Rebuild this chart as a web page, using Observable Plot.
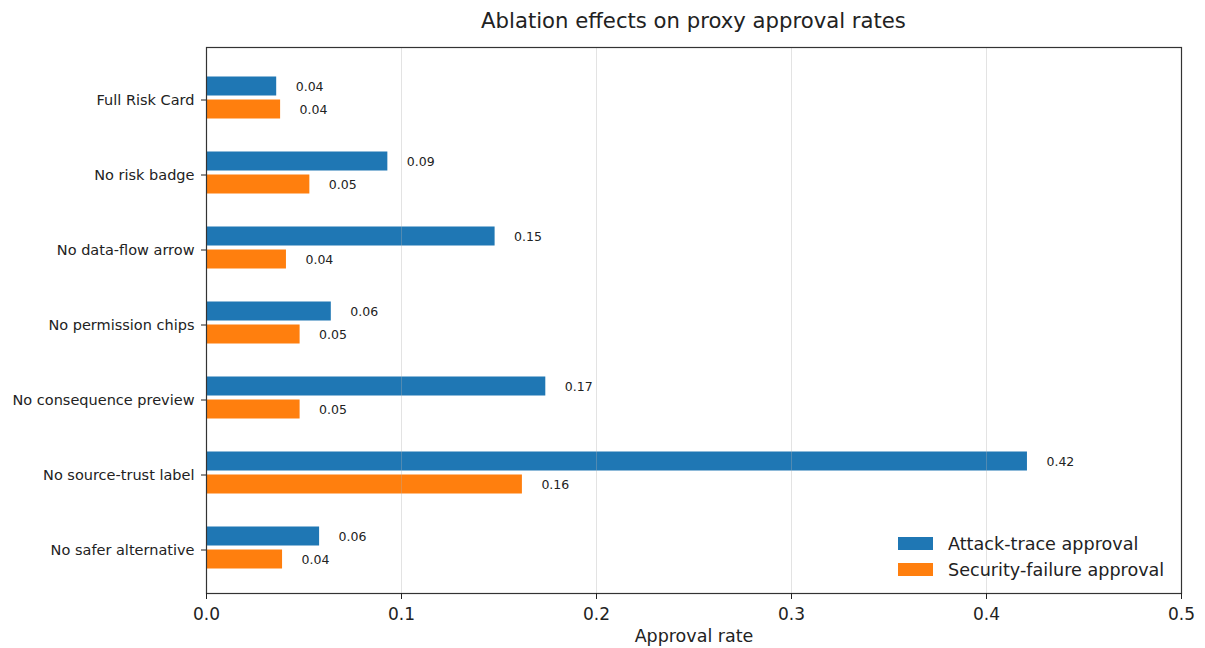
<!DOCTYPE html>
<html>
<head>
<meta charset="utf-8">
<script src="https://cdn.jsdelivr.net/npm/d3@7"></script>
<script src="https://cdn.jsdelivr.net/npm/@observablehq/plot@0.6"></script>
<style>
  html, body { margin: 0; padding: 0; background: #fff; }
  #wrap { position: relative; width: 1205px; height: 648px; font-family: "DejaVu Sans", sans-serif; color: #222; }
  #title { position: absolute; left: 206px; width: 975px; top: 7px; text-align: center; font-size: 21.2px; line-height: 28px; }
  .leg { position: absolute; left: 898px; width: 35px; height: 12.5px; }
  .legt { position: absolute; left: 948px; font-size: 17.6px; line-height: 20px; white-space: nowrap; }
</style>
</head>
<body>
<div id="wrap">
  <div id="chart"></div>
  <div id="title">Ablation effects on proxy approval rates</div>
  <div class="leg" style="top:537px;background:#1f77b4"></div>
  <div class="legt" style="top:534px">Attack-trace approval</div>
  <div class="leg" style="top:563px;background:#ff7f0e"></div>
  <div class="legt" style="top:560px">Security-failure approval</div>
</div>
<script>
const categories = ["Full Risk Card", "No risk badge", "No data-flow arrow", "No permission chips", "No consequence preview", "No source-trust label", "No safer alternative"];
const attackTrace = [0.036, 0.093, 0.148, 0.064, 0.174, 0.421, 0.058];
const securityFailure = [0.038, 0.053, 0.041, 0.048, 0.048, 0.162, 0.039];
const xTicks = [0, 0.1, 0.2, 0.3, 0.4, 0.5];
const gridTicks = [0.1, 0.2, 0.3, 0.4];
const xLabel = ["Approval rate"];

const attackRows = categories.map((c, i) => ({category: c, value: attackTrace[i]}));
const securityRows = categories.map((c, i) => ({category: c, value: securityFailure[i]}));
const fmt = d3.format(".2f");
const BLUE = "#1f77b4", ORANGE = "#ff7f0e";

const chart = Plot.plot({
  width: 1205,
  height: 648,
  marginLeft: 206,
  marginRight: 24,
  marginTop: 47,
  marginBottom: 55,
  style: {fontFamily: "DejaVu Sans, sans-serif", color: "#222", background: "transparent"},
  x: {domain: [0, 0.5]},
  y: {type: "band", domain: categories, range: [60, 588], paddingInner: 0.748, paddingOuter: 0.374},
  marks: [
    Plot.barX(attackRows, {x: "value", y: "category", fill: BLUE, dy: -13.5}),
    Plot.barX(securityRows, {x: "value", y: "category", fill: ORANGE, dy: 9.5}),
    Plot.ruleX(gridTicks, {x: d => d, stroke: "#b0b0b0", strokeOpacity: 0.35, strokeWidth: 1}),
    Plot.frame({stroke: "#333", strokeWidth: 1.2}),
    Plot.text(attackRows, {x: "value", y: "category", text: d => fmt(d.value), dx: 19, dy: -13.5, textAnchor: "start", fontSize: 12.5, fill: "#222"}),
    Plot.text(securityRows, {x: "value", y: "category", text: d => fmt(d.value), dx: 19, dy: 9.5, textAnchor: "start", fontSize: 12.5, fill: "#222"}),
    Plot.axisY({tickSize: 5, tickPadding: 7, fontSize: 14.5, label: null}),
    Plot.axisX({ticks: xTicks, tickFormat: d3.format(".1f"), tickSize: 6, tickPadding: 8, fontSize: 17, label: null}),
    Plot.text(xLabel, {frameAnchor: "bottom", text: d => d, dy: 48, fontSize: 17.5, fill: "#222"})
  ]
});
document.getElementById("chart").appendChild(chart);
</script>
</body>
</html>
